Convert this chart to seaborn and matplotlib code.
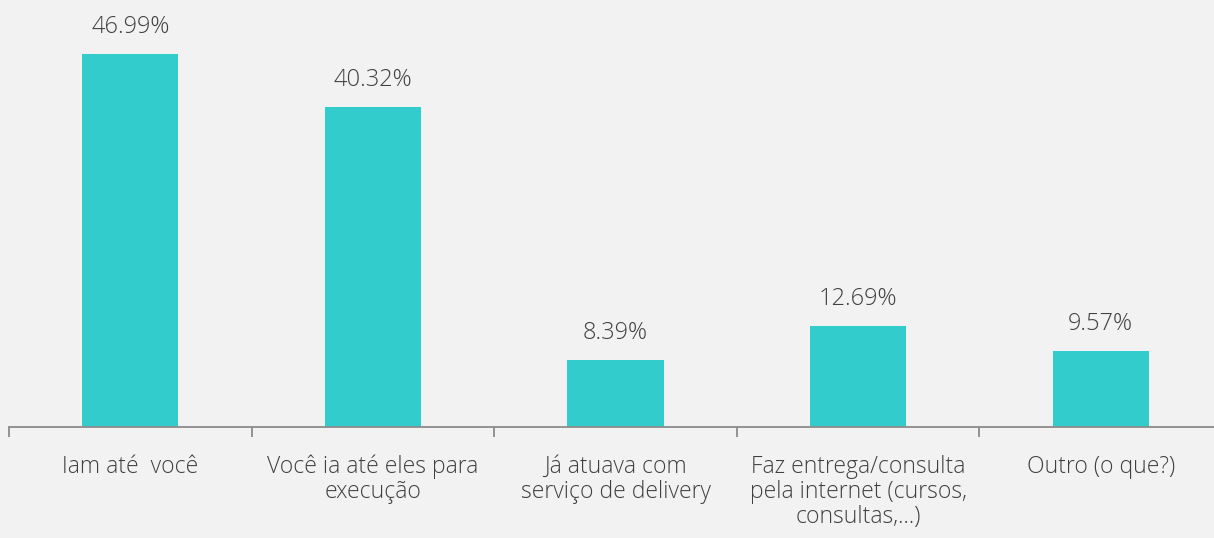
import matplotlib
matplotlib.use("Agg")
import matplotlib.pyplot as plt
import seaborn as sns
import pandas as pd

categories = [
    "Iam até  você",
    "Você ia até eles para\nexecução",
    "Já atuava com\nserviço de delivery",
    "Faz entrega/consulta\npela internet (cursos,\nconsultas,...)",
    "Outro (o que?)",
]
values = [46.99, 40.32, 8.39, 12.69, 9.57]
labels = ["46.99%", "40.32%", "8.39%", "12.69%", "9.57%"]

bg = "#F2F2F2"
bar_color = "#33CCCC"
text_color = "#404040"
axis_color = "#8C8C8C"

sns.set_theme(style="white")
plt.rcParams["font.family"] = ["Open Sans", "DejaVu Sans"]

df = pd.DataFrame({"category": categories, "value": values})

fig = plt.figure(figsize=(12.14, 5.38), dpi=100, facecolor=bg)
ax = fig.add_axes([9 / 1214, 111 / 538, 1213 / 1214, 427 / 538])
ax.set_facecolor(bg)

sns.barplot(data=df, x="category", y="value", color=bar_color,
            width=0.396, saturation=1, linewidth=0, ax=ax)

# percentage labels above bars
for i, (v, lab) in enumerate(zip(values, labels)):
    ax.annotate(lab, (i, v), xytext=(0, 11), textcoords="offset points",
                ha="center", va="bottom", fontsize=17, color=text_color,
                fontweight="light")

ax.set_xlim(-0.5, 4.5)
ax.set_ylim(0, 53.8)
ax.set_xlabel("")
ax.set_ylabel("")
ax.set_yticks([])

for s in ["top", "right", "left"]:
    ax.spines[s].set_visible(False)
ax.spines["bottom"].set_color(axis_color)
ax.spines["bottom"].set_linewidth(1.3)

# tick marks between categories, labels centered on bars
ax.set_xticks([-0.5, 0.5, 1.5, 2.5, 3.5, 4.5])
ax.set_xticklabels([])
ax.tick_params(axis="x", which="major", length=7, width=1.3, color=axis_color,
               direction="out", bottom=True)
ax.set_xticks(range(len(categories)), minor=True)
ax.set_xticklabels(categories, minor=True, fontsize=16.5, color=text_color,
                   linespacing=1.05, va="top", fontweight="light")
ax.tick_params(axis="x", which="minor", length=0, pad=20)

fig.savefig("out.png", dpi=100, facecolor=bg)
